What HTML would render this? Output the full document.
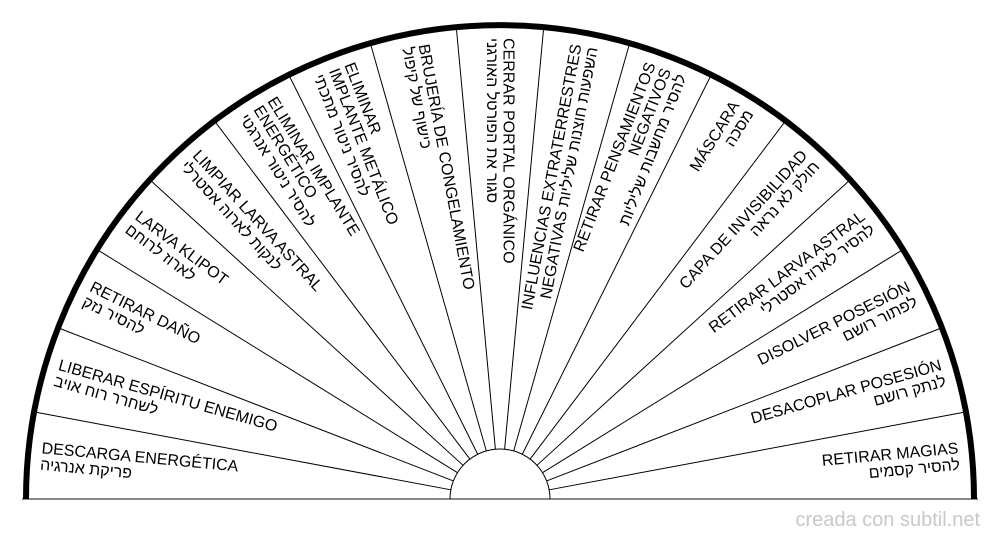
<!DOCTYPE html>
<html><head><meta charset="utf-8"><style>
html,body{margin:0;padding:0;background:#fff;}
svg{display:block;}
text{font-family:"Liberation Sans","Noto Sans CJK SC",sans-serif;font-size:16px;fill:#000;}
</style></head><body>
<svg id="s" width="1000" height="540" xmlns="http://www.w3.org/2000/svg">
<line x1="22" y1="499" x2="978" y2="499" stroke="#888" stroke-width="2"/>
<path d="M 26 499 A 474 474 0 0 1 974 499" fill="none" stroke="#000" stroke-width="6"/>
<path d="M 450 499 A 50 50 0 0 1 550 499" fill="none" stroke="#000" stroke-width="1"/>
<g id="lines" stroke="#000" stroke-width="1"></g>
<g id="labels"></g>
<text x="980" y="526" text-anchor="end" style="font-size:20px;fill:#c8c8c8">creada con subtil.net</text>
</svg>
<script>
var cx=500,cy=499,N=17,step=180/N;
var L=[
["DESCARGA ENERGÉTICA","פריקת אנרגיה"],
["LIBERAR ESPÍRITU ENEMIGO","לשחרר רוח אויב"],
["RETIRAR DAÑO","להסיר נזק"],
["LARVA KLIPOT","לארוז לרוחם"],
["LIMPIAR LARVA ASTRAL","לנקות לארוה אסטרלי"],
["ELIMINAR IMPLANTE","ENERGÉTICO","להסיר ניטור אנרגטי"],
["ELIMINAR","IMPLANTE METÁLICO","להסיר ניטור מתכתי"],
["BRUJERÍA DE CONGELAMIENTO","כישוף של קיפול"],
["CERRAR PORTAL ORGÁNICO","סגור את הפורטל האורגני"],
["INFLUENCIAS  EXTRATERRESTRES","NEGATIVAS  השפעות חוצנות שליליות"],
["RETIRAR PENSAMIENTOS","NEGATIVOS","להסיר מחשבות שליליות"],
["MÁSCARA","מסכה"],
["CAPA DE INVISIBILIDAD","חולק לא נראה"],
["RETIRAR LARVA ASTRAL","להסיר לארוז אסטרלי"],
["DISOLVER POSESIÓN","לפתור רושם"],
["DESACOPLAR POSESIÓN","לנתק רושם"],
["RETIRAR MAGIAS","להסיר קסמים"]];
var ns="http://www.w3.org/2000/svg",g=document.getElementById("lines"),lg=document.getElementById("labels");
function P(r,a){var t=a*Math.PI/180;return [cx-r*Math.cos(t),cy-r*Math.sin(t)];}
for(var k=1;k<N;k++){var a=P(50,k*step),b=P(472,k*step);var l=document.createElementNS(ns,"line");
l.setAttribute("x1",a[0]);l.setAttribute("y1",a[1]);l.setAttribute("x2",b[0]);l.setAttribute("y2",b[1]);g.appendChild(l);}
for(var i=0;i<N;i++){var th=(i+0.5)*step,p=P(461,th),left=th<=90.01;
var rot=left?th:th-180;var n=L[i].length;
var gg=document.createElementNS(ns,"g");gg.setAttribute("transform","translate("+p[0]+","+p[1]+") rotate("+rot+")");
for(var j=0;j<n;j++){var t=document.createElementNS(ns,"text");t.setAttribute("x",0);
t.setAttribute("y",(j-(n-1)/2)*16.5+5);t.setAttribute("text-anchor",left?"start":"end");
t.textContent=L[i][j];gg.appendChild(t);}
lg.appendChild(gg);}
</script>
</body></html>
